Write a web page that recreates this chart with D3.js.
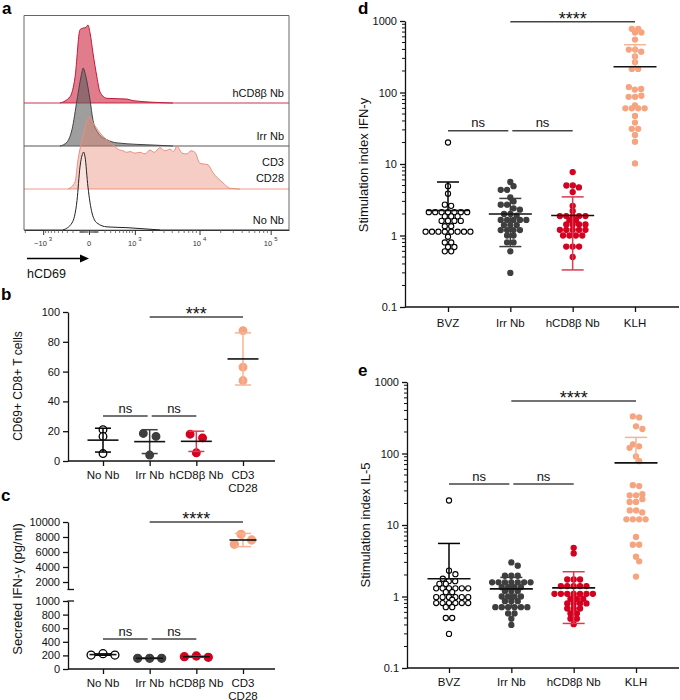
<!DOCTYPE html>
<html><head><meta charset="utf-8">
<script src="https://cdn.jsdelivr.net/npm/d3@7"></script>
<style>body{margin:0;background:#fff} text{font-family:"Liberation Sans",Arial,sans-serif}</style>
</head><body><svg id="c" width="680" height="700"></svg>
<script>
// ---------------- DATA ----------------
// Panel a: flow histograms, [hCD69 fluorescence, % of mode]
const histLabels = [["hCD8β Nb"], ["Irr Nb"], ["CD3", "CD28"], ["No Nb"]];
const histHCD8 = [[-459,0],[-251,8],[-169,33],[-100,94],[-63,96],[-30,97],[-10,100],[10,90],[41,64],[87,33],[127,14],[233,6],[712,5],[925,3],[4104,0]];
const histIrr = [[-459,0],[-306,5],[-217,21],[-140,59],[-75,95],[-63,100],[-30,88],[10,59],[41,33],[100,17],[233,8],[435,4],[2337,1],[4104,0]];
const histCD3 = [[-288,0],[-169,9],[-127,37],[-75,63],[-41,79],[-10,91],[10,92],[41,85],[127,72],[200,65],[288,60],[389,54],[500,50],[590,49],[700,47],[813,48],[1000,46],[1233,47],[1500,45],[1809,50],[2100,47],[2604,53],[3100,49],[3702,51],[4200,48],[4704,55],[5200,50],[5574,46],[6588,45],[7500,49],[8595,47],[10140,33],[13190,31],[15510,21],[21480,8],[26940,1],[37200,0]];
const histNoNb = [[-389,0],[-217,9],[-140,38],[-100,81],[-63,99],[-57,100],[-41,94],[-10,55],[30,22],[87,9],[233,4],[712,3],[1809,1],[2604,0]];
const histMajorTicks = [-1000, 0, 1000, 10000, 100000];
const histTickLabels = [["−10","3"],["0",""],["10","3"],["10","4"],["10","5"]];

// Panel b: CD69+ CD8+ T cells (%)
const catsB = ["No Nb", "Irr Nb", "hCD8β Nb", "CD3\nCD28"];
const bNoNb = [21, 16.5, 5];
const bIrr = [18.5, 16.5, 4];
const bHCD8 = [18, 15.5, 5.5];
const bCD3 = [87.5, 63, 54];
const bMean = [14, 13, 13.2, 68.5];
const bSD = [8, 8, 6.8, 17.5];
const bTicks = [0, 20, 40, 60, 80, 100];

// Panel c: secreted IFN-y (pg/ml)
const cNoNb = [205, 225, 205];
const cIrr = [157, 157, 157];
const cHCD8 = [181, 191, 172];
const cCD3 = [7030, 8360, 7600];
const cMean = [212, 157, 181, 7600];
const cSD = [10, 2, 8, 880];
const cTicksLow = [0, 200, 400, 600, 800, 1000];
const cTicksHigh = [2000, 4000, 6000, 8000, 10000];

// Panel d: stimulation index IFN-y
const catsDE = ["BVZ", "Irr Nb", "hCD8β Nb", "KLH"];
const dBVZ = [20, 4.9, 3.85, 2.7, 2.6, 2.12, 2.12, 2.12, 2.12, 2.12, 2.12, 2.12, 1.85, 1.85, 1.85, 1.6, 1.6, 1.6, 1.6, 1.35, 1.35, 1.13, 1.13, 1.13, 1.13, 1.13, 1.13, 1.13, 1.13, 0.96, 0.8, 0.8, 0.69, 0.69, 0.6, 0.6];
const dIrr = [5.6, 4.9, 4.35, 4.35, 3.4, 3.0, 2.7, 2.7, 2.4, 2.3, 2.0, 2.0, 1.9, 1.65, 1.65, 1.65, 1.65, 1.65, 1.4, 1.4, 1.4, 1.19, 1.19, 1.19, 1.19, 1.0, 1.0, 0.8, 0.8, 0.6, 0.3];
const dHCD8 = [7.7, 5.0, 5.0, 4.7, 4.05, 2.6, 2.2, 1.87, 1.87, 1.87, 1.87, 1.87, 1.64, 1.64, 1.43, 1.43, 1.43, 1.43, 1.2, 1.2, 1.2, 1.2, 1.2, 1.0, 1.0, 1.0, 1.0, 0.7, 0.7, 0.7, 0.5];
const dKLH = [776, 776, 690, 690, 550, 398, 398, 372, 320, 265, 214, 214, 119, 110, 112, 87, 87, 90, 60, 60, 60, 60, 66, 47, 38, 31, 31, 25.5, 20.5, 10.2];
const dMean = [2.24, 2.0, 1.9, 229];
const dSD = [3.36, 1.3, 1.57, 237];

// Panel e: stimulation index IL-5
const eBVZ = [22, 2.3, 2.05, 1.77, 1.64, 1.64, 1.5, 1.5, 1.3, 1.3, 1.3, 1.3, 1.3, 1.3, 1.15, 1.15, 0.98, 0.98, 0.98, 0.98, 0.98, 0.98, 0.9, 0.81, 0.81, 0.81, 0.81, 0.81, 0.81, 0.71, 0.71, 0.5, 0.5, 0.3];
const eIrr = [3.0, 2.7, 1.95, 1.95, 1.95, 1.58, 1.58, 1.58, 1.58, 1.58, 1.58, 1.58, 1.35, 1.35, 1.35, 1.35, 1.19, 1.19, 1.19, 1.0, 1.0, 1.0, 1.0, 0.86, 0.86, 0.86, 0.71, 0.71, 0.71, 0.71, 0.71, 0.71, 0.58, 0.58, 0.49, 0.4];
const eHCD8 = [4.8, 4.0, 1.73, 1.73, 1.73, 1.4, 1.4, 1.4, 1.4, 1.4, 1.09, 1.09, 1.09, 1.09, 1.09, 1.09, 1.09, 0.93, 0.93, 0.93, 0.8, 0.8, 0.8, 0.8, 0.68, 0.68, 0.68, 0.58, 0.58, 0.49, 0.49, 0.41];
const eKLH = [330, 320, 240, 220, 134, 126, 120, 91, 78, 36, 35, 26, 26, 27, 23, 21, 21, 16, 16, 15, 12, 12, 12, 12, 6.8, 5.3, 5.3, 3.6, 3.1, 1.9];
const eMean = [1.77, 1.28, 1.32, 74];
const eSD = [3.75, 0.57, 0.9, 94];
const logTicks = [0.1, 1, 10, 100, 1000];

// ---------------- STYLE ----------------
const svg = d3.select("#c");
const F = '"Liberation Sans", Arial, sans-serif';
const groupStyles = [
  {fill: "#fff", stroke: "#000", bar: "#000"},
  {fill: "#3e3e3e", stroke: "#3e3e3e", bar: "#3e3e3e"},
  {fill: "#d4001f", stroke: "#d4001f", bar: "#dc3a50"},
  {fill: "#f6a47f", stroke: "#f6a47f", bar: "#f7b393"}
];
const sigColor = "#444";

function panelLetter(t, x, y) {
  svg.append("text").attr("x", x).attr("y", y).attr("font-size", 17).attr("font-weight", "bold").text(t);
}

// beeswarm in rows (Prism style)
function swarm(vals, y, cx, D, rowH, avoid) {
  const pts = vals.map((v, i) => ({v, i, y: y(v)}));
  const sorted = pts.slice().sort((a, b) => a.y - b.y);
  const rows = []; let cur = null;
  sorted.forEach(p => { if (!cur || p.y - cur.y0 > rowH) { cur = {y0: p.y, items: []}; rows.push(cur); } cur.items.push(p); });
  const placed = [];
  rows.forEach(r => {
    r.items.sort((a, b) => a.i - b.i);
    const xs = [0];
    for (let k = 1; k < r.items.length; k++) {
      const dy = Math.abs(r.items[k].y - r.items[k - 1].y);
      xs.push(xs[k - 1] + Math.sqrt(Math.max(D * D - dy * dy, (D * 0.45) ** 2)));
    }
    const mid = (xs[0] + xs[xs.length - 1]) / 2;
    let best = 0;
    if (avoid) {
      const shifts = [0, D / 2, -D / 2, D, -D];
      let bestC = Infinity;
      for (const s of shifts) {
        let c = 0;
        r.items.forEach((p, k) => { const x = cx + xs[k] - mid + s; placed.forEach(q => { const d = Math.hypot(q.x - x, q.y - p.y); if (d < avoid) c += avoid - d; }); });
        if (c < bestC - 1e-6) { bestC = c; best = s; }
        if (c === 0) break;
      }
    }
    r.items.forEach((p, k) => { p.x = cx + xs[k] - mid + best; placed.push(p); });
  });
  return pts;
}

function drawGroups(g, groups, xS, yS, cats, means, sds, opt) {
  groups.forEach((vals, gi) => {
    const st = groupStyles[gi];
    const cx = xS(cats[gi]);
    const pts = swarm(vals, yS, cx, opt.D, opt.rowH, opt.avoid);
    g.append("g").selectAll("circle").data(pts).join("circle")
      .attr("cx", d => d.x).attr("cy", d => d.y).attr("r", opt.r)
      .attr("fill", st.fill).attr("stroke", st.stroke).attr("stroke-width", opt.sw);
    const m = means[gi], s = sds[gi];
    const lo = m - s, hi = m + s;
    const bar = g.append("g").attr("stroke", st.bar).attr("stroke-width", 1.5).attr("fill", "none");
    bar.append("line").attr("x1", cx).attr("x2", cx).attr("y1", yS(m)).attr("y2", yS(hi));
    bar.append("line").attr("x1", cx - opt.cap / 2).attr("x2", cx + opt.cap / 2).attr("y1", yS(hi)).attr("y2", yS(hi));
    if (lo > opt.minVal) {
      bar.append("line").attr("x1", cx).attr("x2", cx).attr("y1", yS(m)).attr("y2", yS(lo));
      bar.append("line").attr("x1", cx - opt.cap / 2).attr("x2", cx + opt.cap / 2).attr("y1", yS(lo)).attr("y2", yS(lo));
    }
    g.append("line").attr("x1", cx - opt.meanW / 2).attr("x2", cx + opt.meanW / 2).attr("y1", yS(m)).attr("y2", yS(m))
      .attr("stroke", "#111").attr("stroke-width", 1.6);
  });
}

function sig(g, x1, x2, y, label, big) {
  g.append("line").attr("x1", x1).attr("x2", x2).attr("y1", y).attr("y2", y).attr("stroke", sigColor).attr("stroke-width", 1.5);
  g.append("text").attr("x", (x1 + x2) / 2).attr("y", big ? y + 3 : y - 3.5).attr("text-anchor", "middle")
    .attr("font-size", big ? 18 : 13).attr("fill", "#111").text(label);
}

function styleAxis(a) {
  a.selectAll("path,line").attr("stroke", "#111").attr("stroke-width", 1.3);
  a.selectAll("text").attr("font-family", F).attr("font-size", 11).attr("fill", "#111");
}

function catLabels(g, xS, cats, y) {
  cats.forEach(c => {
    const t = g.append("text").attr("x", xS(c)).attr("y", y).attr("text-anchor", "middle").attr("font-size", 11.5).attr("fill", "#111");
    c.split("\n").forEach((s, i) => t.append("tspan").attr("x", xS(c)).attr("dy", i ? 12.5 : 0).text(s));
  });
}

function yTitle(t, x, y, fs) {
  svg.append("text").attr("transform", `translate(${x},${y}) rotate(-90)`).attr("text-anchor", "middle")
    .attr("font-size", fs).attr("fill", "#111").text(t);
}

// ---------------- PANEL A ----------------
panelLetter("a", 2, 14);
const gA = svg.append("g");
const xA = d3.scaleSymlog().constant(300).domain([-2100, 180000]).range([24, 289]);
const baselines = [103, 146, 189, 230];
const histData = [histHCD8, histIrr, histCD3, histNoNb];
const histStyle = [
  {fill: "#c8102e", op: 0.55, line: "#c01a3c", base: "#c8354f"},
  {fill: "#5e5e5e", op: 0.6, line: "#444", base: "#555"},
  {fill: "#e8826e", op: 0.4, line: "#ea8f7d", base: "#ef9a88"},
  {fill: "#fff", op: 0.45, line: "#222", base: "#333"}
];
histData.forEach((h, i) => {
  const b = baselines[i];
  const yS = d3.scaleLinear().domain([0, 100]).range([b, b - 78]);
  const st = histStyle[i];
  gA.append("line").attr("x1", 24).attr("x2", 289).attr("y1", b).attr("y2", b).attr("stroke", st.base).attr("stroke-width", 1);
  const area = d3.area().x(d => xA(d[0])).y0(b).y1(d => yS(d[1])).curve(d3.curveMonotoneX);
  const line = d3.line().x(d => xA(d[0])).y(d => yS(d[1])).curve(d3.curveMonotoneX);
  gA.append("path").attr("d", area(h)).attr("fill", st.fill).attr("fill-opacity", st.op);
  gA.append("path").attr("d", line(h)).attr("fill", "none").attr("stroke", st.line).attr("stroke-width", 1);
});
// box
gA.append("path").attr("d", "M24,230V15.5H289V230").attr("fill", "none").attr("stroke", "#666").attr("stroke-width", 1);
// labels
const labY = [[97], [140], [166, 182], [224]];
histLabels.forEach((ls, i) => ls.forEach((s, k) =>
  gA.append("text").attr("x", 284).attr("y", labY[i][k]).attr("text-anchor", "end").attr("font-size", 11).attr("fill", "#111").text(s)));
// x axis
const axA = gA.append("g").attr("transform", "translate(0,230)")
  .call(d3.axisBottom(xA).tickValues(histMajorTicks).tickFormat("").tickSize(5).tickSizeOuter(0));
axA.selectAll("path,line").attr("stroke", "#333").attr("stroke-width", 1);
const minorA = [];
[-2000].forEach(v => minorA.push(v));
for (let m = 1; m <= 9; m++) { minorA.push(-m * 100, m * 100, -m * 10, m * 10); }
for (let m = 2; m <= 9; m++) { minorA.push(m * 1000, m * 10000); }
gA.append("g").selectAll("line").data(minorA).join("line")
  .attr("x1", d => xA(d)).attr("x2", d => xA(d)).attr("y1", 230).attr("y2", 233).attr("stroke", "#555").attr("stroke-width", 0.8);
histMajorTicks.forEach((v, i) => {
  const t = gA.append("text").attr("x", xA(v)).attr("y", 246).attr("text-anchor", "middle").attr("font-size", 7.5).attr("fill", "#333");
  t.append("tspan").text(histTickLabels[i][0]);
  if (histTickLabels[i][1]) t.append("tspan").attr("dx", 2).attr("dy", -5).attr("font-size", 6).text(histTickLabels[i][1]);
});
// arrow & label
gA.append("line").attr("x1", 27).attr("x2", 82).attr("y1", 258.5).attr("y2", 258.5).attr("stroke", "#000").attr("stroke-width", 1.5);
gA.append("path").attr("d", "M80,254.5L89,258.5L80,262.5Z").attr("fill", "#000");
gA.append("text").attr("x", 27).attr("y", 278).attr("font-size", 12.5).attr("fill", "#111").text("hCD69");

// ---------------- PANEL B ----------------
panelLetter("b", 1, 300);
const gB = svg.append("g");
const xB = d3.scalePoint().domain(catsB).range([103, 243]);
const yB = d3.scaleLinear().domain([0, 100]).range([461, 312]);
styleAxis(gB.append("g").attr("transform", "translate(68,0)").call(d3.axisLeft(yB).tickValues(bTicks).tickSize(5).tickSizeOuter(0)));
styleAxis(gB.append("g").attr("transform", "translate(0,461)").call(d3.axisBottom(xB).tickFormat("").tickSize(5).tickSizeOuter(0)).call(a => a.select(".domain").remove()));
gB.append("line").attr("x1", 68).attr("x2", 275).attr("y1", 461).attr("y2", 461).attr("stroke", "#111").attr("stroke-width", 1.3);
catLabels(gB, xB, catsB, 479);
yTitle("CD69+ CD8+ T cells", 22, 386, 12);
drawGroups(gB, [bNoNb, bIrr, bHCD8, bCD3], xB, yB, catsB, bMean, bSD, {D: 13, rowH: 5, avoid: 0, r: 3.8, sw: 1.3, cap: 16, meanW: 31, minVal: -1});
sig(gB, xB(catsB[0]), xB(catsB[1]) - 2, 416, "ns");
sig(gB, xB(catsB[1]) + 2, xB(catsB[2]), 416, "ns");
sig(gB, xB(catsB[1]), xB(catsB[3]), 317, "***", true);

// ---------------- PANEL C ----------------
panelLetter("c", 1, 501);
const gC = svg.append("g");
const xC = d3.scalePoint().domain(catsB).range([103, 243]);
const yCLow = d3.scaleLinear().domain([0, 1000]).range([669, 601]);
const yCHigh = d3.scaleLinear().domain([1000, 10000]).range([589.5, 522]);
const yC = v => v <= 1000 ? yCLow(v) : yCHigh(v);
const fmtInt = d3.format("d");
styleAxis(gC.append("g").attr("transform", "translate(68,0)").call(d3.axisLeft(yCLow).tickValues(cTicksLow).tickFormat(fmtInt).tickSize(5).tickSizeOuter(0)));
const axCH = gC.append("g").attr("transform", "translate(68,0)").call(d3.axisLeft(yCHigh).tickValues(cTicksHigh).tickFormat(fmtInt).tickSize(5).tickSizeOuter(0));
styleAxis(axCH);
gC.append("line").attr("x1", 67.5).attr("x2", 74).attr("y1", 589.5).attr("y2", 589.5).attr("stroke", "#111").attr("stroke-width", 1.3);
gC.append("line").attr("x1", 67.5).attr("x2", 74).attr("y1", 601).attr("y2", 601).attr("stroke", "#111").attr("stroke-width", 1.3);
styleAxis(gC.append("g").attr("transform", "translate(0,669)").call(d3.axisBottom(xC).tickFormat("").tickSize(5).tickSizeOuter(0)).call(a => a.select(".domain").remove()));
gC.append("line").attr("x1", 68).attr("x2", 275).attr("y1", 669).attr("y2", 669).attr("stroke", "#111").attr("stroke-width", 1.3);
catLabels(gC, xC, catsB, 687);
yTitle("Secreted IFN-y (pg/ml)", 22, 589, 13);
drawGroups(gC, [cNoNb, cIrr, cHCD8, cCD3], xC, yC, catsB, cMean, cSD, {D: 12, rowH: 11, avoid: 0, r: 4, sw: 1.3, cap: 16, meanW: 27, minVal: -1});
sig(gC, xC(catsB[0]), xC(catsB[1]) - 2, 639, "ns");
sig(gC, xC(catsB[1]) + 2, xC(catsB[2]), 639, "ns");
sig(gC, xC(catsB[1]), xC(catsB[3]), 522, "****", true);

// ---------------- PANELS D & E ----------------
function logPanel(cfg) {
  const g = svg.append("g");
  const xS = d3.scalePoint().domain(catsDE).range(cfg.xr);
  const yS = d3.scaleLog().domain([0.1, 1000]).range(cfg.yr);
  const ax = g.append("g").attr("transform", `translate(${cfg.ax},0)`).call(d3.axisLeft(yS).tickValues(logTicks).tickFormat(d => String(d)).tickSize(5).tickSizeOuter(0));
  styleAxis(ax);
  const minor = [];
  for (let k = -1; k < 3; k++) for (let m = 2; m <= 9; m++) minor.push(m * Math.pow(10, k));
  g.append("g").selectAll("line").data(minor).join("line")
    .attr("x1", cfg.ax - 3).attr("x2", cfg.ax).attr("y1", d => yS(d)).attr("y2", d => yS(d)).attr("stroke", "#111").attr("stroke-width", 1);
  styleAxis(g.append("g").attr("transform", `translate(0,${cfg.yr[0]})`).call(d3.axisBottom(xS).tickFormat("").tickSize(5).tickSizeOuter(0)).call(a => a.select(".domain").remove()));
  g.append("line").attr("x1", cfg.ax).attr("x2", 679).attr("y1", cfg.yr[0]).attr("y2", cfg.yr[0]).attr("stroke", "#111").attr("stroke-width", 1.3);
  catLabels(g, xS, catsDE, cfg.labY);
  yTitle(cfg.title, cfg.titleX, cfg.titleY, 13);
  drawGroups(g, cfg.groups, xS, yS, catsDE, cfg.mean, cfg.sd, {D: 6.4, rowH: 2.5, avoid: 5, r: 2.6, sw: 1.1, cap: 22, meanW: 43, minVal: 0.1});
  sig(g, xS(catsDE[0]), xS(catsDE[1]) - 2, cfg.nsY, "ns");
  sig(g, xS(catsDE[1]) + 2, xS(catsDE[2]), cfg.nsY, "ns");
  sig(g, xS(catsDE[1]), xS(catsDE[3]), cfg.sigY, "****", true);
}
panelLetter("d", 358, 14);
logPanel({xr: [448, 635], yr: [307, 21], ax: 405, labY: 327, title: "Stimulation index IFN-y", titleX: 368, titleY: 165,
  groups: [dBVZ, dIrr, dHCD8, dKLH], mean: dMean, sd: dSD, nsY: 130.7, sigY: 21.7});
panelLetter("e", 358, 376);
logPanel({xr: [449, 636], yr: [668, 382], ax: 407, labY: 686, title: "Stimulation index IL-5", titleX: 370, titleY: 525,
  groups: [eBVZ, eIrr, eHCD8, eKLH], mean: eMean, sd: eSD, nsY: 484, sigY: 401});
</script></body></html>
